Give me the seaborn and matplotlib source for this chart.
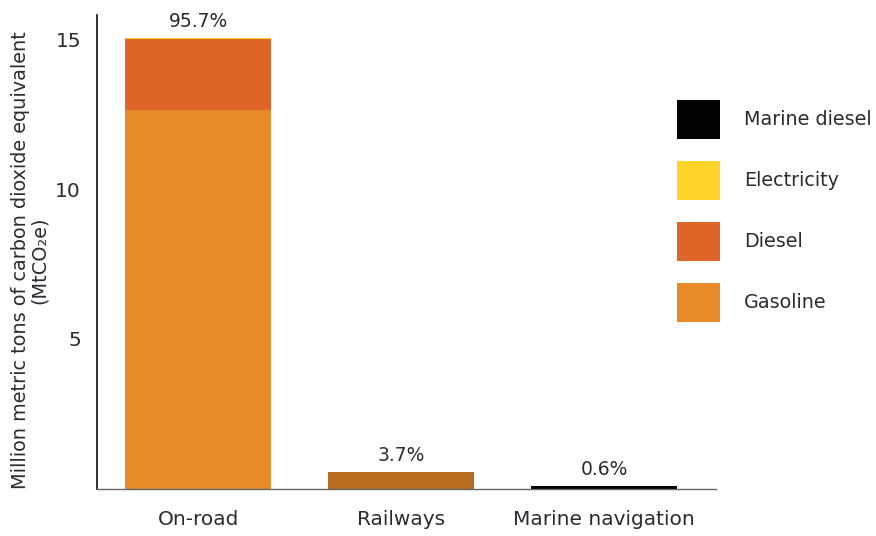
import matplotlib
matplotlib.use("Agg")
import matplotlib.pyplot as plt
from matplotlib.patches import Patch
import seaborn as sns
import numpy as np
import pandas as pd

categories = ["On-road", "Railways", "Marine navigation"]
gasoline = [12.63, 0.0, 0.0]
diesel = [2.37, 0.0, 0.0]
electricity = [0.04, 0.0, 0.0]
rail_fuel = [0.0, 0.58, 0.0]
marine_diesel = [0.0, 0.0, 0.094]
shares = ["95.7%", "3.7%", "0.6%"]
legend_labels = ["Marine diesel", "Electricity", "Diesel", "Gasoline"]

C_GAS = "#E88A2A"
C_DIE = "#E06529"
C_ELE = "#FFD32A"
C_MAR = "#000000"
C_RAIL = "#B86B1E"
TXT = "#2b2b33"

sns.set_theme(style="white")
plt.rcParams["font.family"] = ["DejaVu Sans"]

fig = plt.figure(figsize=(8.76, 5.36), dpi=100)
ax = fig.add_axes([97/876, 1-489/536, (716-97)/876, (489-15)/536])

g = np.array(gasoline)
d = np.array(diesel)
e = np.array(electricity)
r = np.array(rail_fuel)
m = np.array(marine_diesel)

layers = [
    (g + d + e + r + m, [C_ELE, C_RAIL, C_MAR]),
    (g + d, [C_DIE, C_DIE, C_DIE]),
    (g, [C_GAS, C_GAS, C_GAS]),
]
for vals, cols in layers:
    df = pd.DataFrame({"cat": categories, "val": vals})
    sns.barplot(data=df, x="cat", y="val", hue="cat", palette=cols,
                width=0.72, legend=False, ax=ax, saturation=1, linewidth=0)

totals = g + d + e + r + m
for i, (t, s) in enumerate(zip(totals, shares)):
    ax.annotate(s, (i, t), xytext=(0, 5), textcoords="offset points",
                ha="center", va="bottom", fontsize=13.5, color=TXT)

ax.set_xlim(-0.5, 2.552)
ax.set_ylim(0, 15.8)
ax.set_yticks([5, 10, 15])
ax.set_yticklabels(["5", "10", "15"])
ax.tick_params(axis="y", length=0, pad=11.5, labelsize=14.5, labelcolor=TXT)
ax.tick_params(axis="x", length=0, pad=15, labelsize=14.5, labelcolor=TXT)
ax.set_xlabel("")
ax.set_ylabel("Million metric tons of carbon dioxide equivalent\n(MtCO₂e)",
              fontsize=13.9, color=TXT, linespacing=1.0)
ax.yaxis.set_label_coords((49 - 97) / 619, (489 - 260) / 474)

for s in ["top", "right"]:
    ax.spines[s].set_visible(False)
ax.spines["left"].set_color("#111111")
ax.spines["left"].set_linewidth(1.2)
ax.spines["bottom"].set_color("#666666")
ax.spines["bottom"].set_linewidth(1.0)

lfs = 13.8
fs_px = lfs * 100 / 72
hh = (39 / fs_px - 0.245) / 0.65
handles = [Patch(facecolor=c, edgecolor="none") for c in [C_MAR, C_ELE, C_DIE, C_GAS]]
fig.legend(handles, legend_labels, loc="upper left",
           bbox_to_anchor=(677/876, 1-100/536), frameon=False, borderpad=0,
           borderaxespad=0, fontsize=lfs, handlelength=43/fs_px, handleheight=hh,
           labelspacing=22/fs_px, handletextpad=24/fs_px, labelcolor=TXT)

fig.savefig("out.png", dpi=100)
